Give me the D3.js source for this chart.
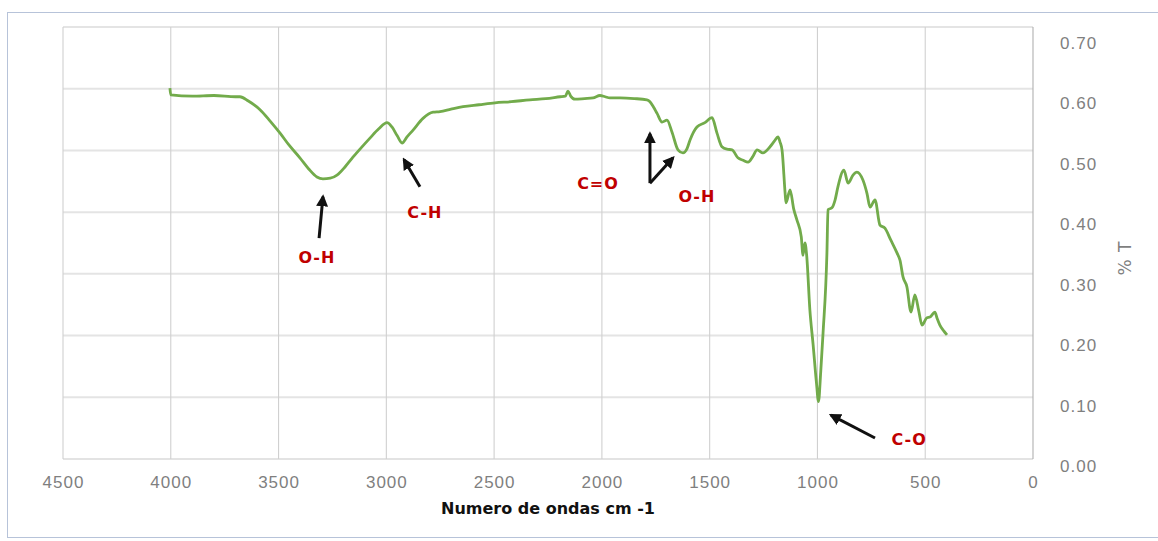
<!DOCTYPE html>
<html>
<head>
<meta charset="utf-8">
<script src="https://cdn.jsdelivr.net/npm/d3@7"></script>
<style>
  body { margin: 0; background: #fff; }
  svg { display: block; font-family: "DejaVu Sans", Verdana, sans-serif; }
  .tick-label { fill: #7f7f7f; font-size: 17px; letter-spacing: 1px; }
  .band-label { fill: #c00000; font-size: 16px; font-weight: bold; letter-spacing: 1px; }
</style>
</head>
<body>
<div id="chart"></div>
<script>
// FTIR spectrum
let wavenumbers = [4004, 4000, 3900, 3800, 3700, 3679, 3640, 3586, 3540, 3493, 3450, 3401, 3360, 3322, 3294,
  3260, 3229, 3190, 3155, 3115, 3076, 3035, 2997, 2974, 2950, 2927, 2904, 2876, 2830, 2783, 2751, 2700,
  2644, 2570, 2496, 2420, 2334, 2260, 2194, 2170, 2157, 2145, 2125, 2080, 2041, 2009, 1985, 1963, 1916,
  1850, 1791, 1777, 1760, 1744, 1721, 1698, 1675, 1647, 1624, 1605, 1591, 1559, 1522, 1489, 1466, 1443,
  1420, 1396, 1369, 1345, 1322, 1300, 1280, 1253, 1220, 1200, 1183, 1174, 1164, 1150, 1146, 1127, 1110,
  1095, 1075, 1067, 1058, 1050, 1035, 1020, 1005, 995, 985, 974, 956, 951, 933, 918, 905, 877, 858, 835,
  817, 789, 770, 756, 733, 710, 687, 660, 631, 617, 603, 585, 566, 548, 530, 515, 492, 478, 455, 445, 432,
  415, 399];
let transmittance = [0.601, 0.590, 0.588, 0.589, 0.587, 0.587, 0.580, 0.566, 0.548, 0.528, 0.508, 0.488, 0.470,
  0.457, 0.454, 0.455, 0.460, 0.474, 0.489, 0.505, 0.520, 0.535, 0.545, 0.538, 0.524, 0.512, 0.522, 0.533,
  0.552, 0.562, 0.563, 0.567, 0.571, 0.574, 0.577, 0.579, 0.582, 0.584, 0.587, 0.588, 0.596, 0.588, 0.583,
  0.584, 0.585, 0.589, 0.587, 0.585, 0.585, 0.584, 0.582, 0.579, 0.570, 0.560, 0.546, 0.549, 0.530, 0.501,
  0.496, 0.503, 0.517, 0.538, 0.545, 0.553, 0.528, 0.506, 0.502, 0.501, 0.488, 0.484, 0.481, 0.490, 0.501,
  0.496, 0.506, 0.515, 0.522, 0.514, 0.500, 0.431, 0.415, 0.436, 0.405, 0.387, 0.360, 0.330, 0.350, 0.330,
  0.241, 0.185, 0.125, 0.093, 0.140, 0.204, 0.334, 0.404, 0.407, 0.420, 0.441, 0.468, 0.447, 0.460, 0.465,
  0.452, 0.430, 0.408, 0.420, 0.379, 0.374, 0.355, 0.334, 0.322, 0.295, 0.279, 0.238, 0.266, 0.240, 0.217,
  0.229, 0.230, 0.238, 0.228, 0.217, 0.208, 0.201];

let xTicks = [4500, 4000, 3500, 3000, 2500, 2000, 1500, 1000, 500, 0];
let yTicks = [0, 0.1, 0.2, 0.3, 0.4, 0.5, 0.6, 0.7];

// band annotations: label, label position (wavenumber, %T), arrows as [from, to] in data units
let bandNames = ["O-H", "C-H", "C=O", "O-H", "C-O"];
let bandLabelAt = [[3322, 0.327], [2821, 0.400], [2018, 0.446], [1559, 0.426], [575, 0.031]];
let bandArrows = [
  [[[3312, 0.358], [3294, 0.425]]],
  [[[2844, 0.441], [2918, 0.485]]],
  [[[1777, 0.447], [1777, 0.527]], [[1777, 0.447], [1670, 0.488]]],
  [],
  [[[733, 0.034], [937, 0.071]]]
];

let width = 1158, height = 541;
let svg = d3.select("#chart").append("svg").attr("width", width).attr("height", height);

// arrow head
svg.append("defs").append("marker")
  .attr("id", "head")
  .attr("viewBox", "0 0 10 10")
  .attr("refX", 8).attr("refY", 5)
  .attr("markerWidth", 4).attr("markerHeight", 4)
  .attr("orient", "auto")
  .append("path").attr("d", "M0,0 L10,5 L0,10 z").attr("fill", "#111");

// outer frame
svg.append("rect")
  .attr("x", 7.5).attr("y", 12.5)
  .attr("width", 1160).attr("height", 525)
  .attr("fill", "none").attr("stroke", "#b7c3d9");

let x = d3.scaleLinear().domain([4500, 0]).range([63, 1033]);
let y = d3.scaleLinear().domain([0, 0.7]).range([459, 27]);
// the tick labels sit on a slightly tighter spacing than the grid
let yLab = d3.scaleLinear().domain([0, 0.7]).range([466, 43]);

// grid
svg.append("g").selectAll("line").data(yTicks).join("line")
  .attr("x1", 63).attr("x2", 1033)
  .attr("y1", d => y(d)).attr("y2", d => y(d))
  .attr("stroke", d => d === 0 ? "#c8c8c8" : "#e4e4e4")
  .attr("stroke-width", d => d === 0 ? 1.2 : 2);

svg.append("g").selectAll("line").data(xTicks).join("line")
  .attr("x1", d => x(d)).attr("x2", d => x(d))
  .attr("y1", 27).attr("y2", 459)
  .attr("stroke", d => d === 0 ? "#b0b0b0" : "#d0d0d0")
  .attr("stroke-width", 1.1);

// x axis labels
let xAxis = svg.append("g")
  .attr("transform", "translate(0,459)")
  .call(d3.axisBottom(x).tickValues(xTicks).tickSize(0).tickPadding(17).tickFormat(d3.format("d")));
xAxis.select(".domain").remove();
xAxis.selectAll("text").attr("class", "tick-label").attr("font-family", null).attr("font-size", null).attr("fill", null);

// y axis labels on the right
let yAxis = svg.append("g")
  .attr("transform", "translate(1060,0)")
  .call(d3.axisRight(yLab).tickValues(yTicks).tickSize(0).tickPadding(0).tickFormat(d3.format(".2f")));
yAxis.select(".domain").remove();
yAxis.selectAll("text").attr("class", "tick-label").attr("font-family", null).attr("font-size", null).attr("fill", null);

// axis titles
svg.append("text")
  .attr("x", 548).attr("y", 514)
  .attr("text-anchor", "middle")
  .attr("font-size", 16).attr("font-weight", "bold").attr("fill", "#111")
  .text("Numero de ondas cm -1");

svg.append("text")
  .attr("transform", "translate(1131,258) rotate(-90)")
  .attr("text-anchor", "middle")
  .attr("class", "tick-label")
  .text("% T");

// spectrum
let points = wavenumbers.map((w, i) => [w, transmittance[i]]);
svg.append("path")
  .datum(points)
  .attr("fill", "none")
  .attr("stroke", "#72ab4b")
  .attr("stroke-width", 2.8)
  .attr("stroke-linejoin", "round")
  .attr("d", d3.line().x(d => x(d[0])).y(d => y(d[1])).curve(d3.curveMonotoneX));

// annotations
let notes = svg.append("g");
bandArrows.forEach(list => {
  list.forEach(a => {
    notes.append("line")
      .attr("x1", x(a[0][0])).attr("y1", y(a[0][1]))
      .attr("x2", x(a[1][0])).attr("y2", y(a[1][1]))
      .attr("stroke", "#111").attr("stroke-width", 3)
      .attr("marker-end", "url(#head)");
  });
});

notes.selectAll("text").data(bandNames).join("text")
  .attr("class", "band-label")
  .attr("x", (d, i) => x(bandLabelAt[i][0]))
  .attr("y", (d, i) => y(bandLabelAt[i][1]))
  .attr("text-anchor", "middle")
  .attr("dominant-baseline", "central")
  .text(d => d);
</script>
</body>
</html>
